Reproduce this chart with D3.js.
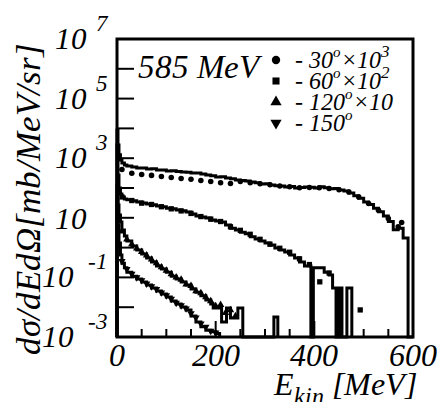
<!DOCTYPE html>
<html>
<head>
<meta charset="utf-8">
<script src="https://cdn.jsdelivr.net/npm/d3@7"></script>
<style>
@font-face { font-family: "RootSerif"; font-style: italic; font-weight: 400;
	src: local("Liberation Serif Italic"), local("LiberationSerif-Italic"), local("Tinos Italic"), local("DejaVu Serif Italic"); }
body { margin: 0; background: #fff; }
#chart text { font-family: "RootSerif", "Liberation Serif", "Tinos", "DejaVu Serif", serif !important; font-style: italic; }
</style>
</head>
<body>
<svg id="chart" width="437" height="402" font-family="Liberation Serif" font-style="italic"></svg>
<script>
/* Espectros de protones, 585 MeV: histogramas (modelo) + puntos (datos) */

// 30 deg x 10^3
var edges30 = [0,2,4,7,10,15,20,30,40,50,60,70,80,90,100,110,120,130,140,150,160,170,180,190,200,210,220,230,240,250,260,270,280,290,300,310,320,330,340,350,360,370,380,390,400,410,420,430,440,450,460,470,480,490,500,510,520,530,540,550,560,570,580,590,600];
var hist30 = [8800,2800,1300,870,690,590,550,510,470,465,435,440,400,405,372,380,360,344,340,318,320,295,273,260,234,240,217,205,185,178,172,159,150,136,140,126,120,117,108,112,100,104,108,106,100,110,102,95,96,86,80,68,55,45,34,28,21,16,11.5,7.5,4.0,4.5,2.1,0];
var ptsE30 = [10,30,50,70,90,110,130,150,170,190,210,230,250,270,290,310,330,350,370,390,410,430,450,470,490,510,530,550,570,577];
var pts30  = [420,310,285,265,245,225,210,195,180,165,150,142,165,150,138,128,117,110,102,104,102,97,88,74,50,30,18,9.5,5,6.9];

// 60 deg x 10^2
var edges60 = [0,2,4,7,10,15,20,30,40,50,60,70,80,90,100,110,120,130,140,150,160,170,180,190,200,210,220,230,240,250,260,270,280,290,300,310,320,330,340,350,360,370,380,393,398,410,420,430,437,444,450,456,466,476];
var hist60 = [2770,273,100,63,50,43,40,37,34,31.5,29,27.5,25,23.5,21,20,18.3,17.2,15.7,13.4,11.5,10.6,9.8,8.4,7.8,7.2,5.7,4.5,3.9,3.3,2.9,2.3,1.95,1.66,1.43,1.22,0.97,0.83,0.71,0.56,0.45,0.33,0.24,0,0.21,0.21,0.15,0.12,0.044,0,0.044,0,0.044];
var ptsE60 = [10,30,50,70,90,110,130,150,170,190,210,230,250,270,290,310,330,350,370,390,411,430,493];
var pts60  = [50,38,31,28,23.5,20,17,14,11,9,7.5,5,3.8,2.8,1.9,1.3,0.95,0.7,0.42,0.27,0.071,0.14,0.0081];

// 120 deg x 10
var edges120 = [0,2,4,7,10,15,20,30,40,50,60,70,80,90,100,110,120,130,140,150,160,170,180,190,195,212,222,230,238,245,255,318,326];
var hist120 = [126,27,12.4,7.2,3.9,2.45,1.66,1.13,0.83,0.61,0.45,0.33,0.24,0.19,0.15,0.11,0.088,0.070,0.056,0.041,0.032,0.024,0.0175,0.0128,0.0094,0.0032,0.0094,0.0043,0.0043,0.0094,0,0.0047];
var ptsE120 = [10,20,30,40,50,60,70,80,90,100,110,120,130,140,150,160,170,180,190,200,210,220,230,240];
var pts120  = [3.5,1.9,1.3,0.95,0.72,0.55,0.40,0.30,0.22,0.17,0.13,0.10,0.085,0.058,0.052,0.035,0.030,0.022,0.016,0.011,0.012,0.0065,0.008,0.005];

// 150 deg
var edges150 = [0,2,4,7,10,15,20,30,40,50,60,70,80,90,100,110,120,130,140,150,160,170,180,190,200,208];
var hist150 = [40,5.7,1.43,0.56,0.30,0.21,0.15,0.11,0.088,0.070,0.056,0.044,0.035,0.028,0.022,0.016,0.0128,0.0102,0.0081,0.0051,0.0032,0.0022,0.0017,0.0015,0.0013];
var ptsE150 = [10,20,30,40,50,60,70,80,90,100,110,120,130,140,150,160,170,180,190,200];
var pts150  = [0.35,0.19,0.13,0.10,0.080,0.062,0.050,0.040,0.031,0.025,0.019,0.014,0.0115,0.009,0.0062,0.0045,0.0028,0.0022,0.0016,0.0014];

var series = [
	{edges: edges30,  hist: hist30,  ptsE: ptsE30,  pts: pts30,  sym: d3.symbolCircle,   rot: 0,   angle: "30",  factor: "3"},
	{edges: edges60,  hist: hist60,  ptsE: ptsE60,  pts: pts60,  sym: d3.symbolSquare,   rot: 0,   angle: "60",  factor: "2"},
	{edges: edges120, hist: hist120, ptsE: ptsE120, pts: pts120, sym: d3.symbolTriangle, rot: 0,   angle: "120", factor: "1"},
	{edges: edges150, hist: hist150, ptsE: ptsE150, pts: pts150, sym: d3.symbolTriangle, rot: 180, angle: "150", factor: ""}
];
var xTicks = [0,50,100,150,200,250,300,350,400,450,500,550,600];
var xLabels = [0,200,400,600];
var yDecades = [-3,-2,-1,0,1,2,3,4,5,6,7];
var yLabelled = [-3,-1,1,3,5,7];

function serif(sel) {
	return sel.attr("style", "font-family: RootSerif, 'Liberation Serif', Tinos, 'DejaVu Serif', serif; font-style: italic")
		.attr("fill", "#000");
}

var frame = {left: 117, right: 413, top: 39, bottom: 337};
var svg = d3.select("#chart");

var x = d3.scaleLinear().domain([0, 600]).range([frame.left, frame.right]);
var y = d3.scaleLog().domain([1e-3, 1e7]).range([frame.bottom, frame.top]).clamp(true);
function yv(v) { return v > 0 ? y(v) : frame.bottom; }

var plot = svg.append("g");

// histogramas en escalones
var line = d3.line().x(function(d) {return x(d[0]);}).y(function(d) {return yv(d[1]);});
series.forEach(function(s) {
	var p = [[s.edges[0], 0]];
	s.hist.forEach(function(v, i) {
		p.push([s.edges[i], v]);
		p.push([s.edges[i+1], v]);
	});
	p.push([s.edges[s.edges.length-1], 0]);
	plot.append("path").attr("d", line(p))
		.attr("fill", "none").attr("stroke", "#000").attr("stroke-width", 3)
		.attr("stroke-linejoin", "miter");
});

// puntos experimentales
series.forEach(function(s) {
	var sym = d3.symbol().type(s.sym).size(s.sym === d3.symbolSquare ? 28 : 24);
	plot.selectAll(null).data(s.pts).enter().append("path")
		.attr("d", sym)
		.attr("transform", function(d, i) {
			return "translate(" + x(s.ptsE[i]) + "," + yv(d) + ") rotate(" + s.rot + ")";
		})
		.attr("fill", "#000");
});

// marcas de los ejes, con las escalas
var ticks = svg.append("g").attr("stroke", "#000").attr("stroke-width", 2);
xTicks.forEach(function(t) {
	var len = xLabels.indexOf(t) >= 0 ? 16 : 8;
	ticks.append("line").attr("x1", x(t)).attr("x2", x(t)).attr("y1", frame.bottom).attr("y2", frame.bottom - len);
});
yDecades.forEach(function(e) {
	var ty = y(Math.pow(10, e));
	ticks.append("line").attr("x1", frame.left).attr("x2", frame.left + 17).attr("y1", ty).attr("y2", ty);
});

xLabels.forEach(function(t) {
	serif(svg.append("text")).attr("x", x(t)).attr("y", 366).attr("text-anchor", "middle")
		.attr("font-size", 32).text(t);
});

// etiquetas 10^n
yLabelled.forEach(function(e) {
	var ty = y(Math.pow(10, e)) + 10;
	if (e === 1) {
		serif(svg.append("text")).attr("x", 87).attr("y", ty + 1).attr("text-anchor", "end")
			.attr("font-size", 31).text("10");
	} else {
		var t = serif(svg.append("text")).attr("x", 108).attr("y", ty).attr("text-anchor", "end").attr("font-size", 31);
		t.append("tspan").text("10");
		t.append("tspan").attr("dx", e < 0 ? 14 : 9).attr("dy", -18).attr("font-size", 23).text(String(e));
	}
});

// marco
svg.append("rect").attr("x", frame.left).attr("y", frame.top)
	.attr("width", frame.right - frame.left).attr("height", frame.bottom - frame.top)
	.attr("fill", "none").attr("stroke", "#000").attr("stroke-width", 3);

// títulos
serif(svg.append("text")).attr("transform", "translate(40,199) rotate(-90)")
	.attr("text-anchor", "middle").attr("font-size", 35).text("dσ/dEdΩ[mb/MeV/sr]");
var xt = serif(svg.append("text")).attr("x", 417).attr("y", 395).attr("text-anchor", "end").attr("font-size", 32);
xt.append("tspan").text("E");
xt.append("tspan").attr("dy", 9).attr("font-size", 24).text("kin");
xt.append("tspan").attr("dy", -9).text(" [MeV]");

serif(svg.append("text")).attr("x", 138).attr("y", 78).attr("font-size", 33).text("585 MeV");

// leyenda
var legY = [60, 81, 102, 123];
series.forEach(function(s, i) {
	var sym = d3.symbol().type(s.sym).size(s.sym === d3.symbolSquare ? 50 : 55);
	svg.append("path").attr("d", sym)
		.attr("transform", "translate(276," + legY[i] + ") rotate(" + s.rot + ")").attr("fill", "#000");
	var t = serif(svg.append("text")).attr("x", 295).attr("y", legY[i] + 8).attr("font-size", 24);
	t.append("tspan").text("- " + s.angle);
	t.append("tspan").attr("dy", -11).attr("font-size", 15).text("o");
	if (s.factor) {
		t.append("tspan").attr("dy", 11).text("×10");
		if (s.factor !== "1") t.append("tspan").attr("dy", -11).attr("font-size", 17).text(s.factor);
	}
});
</script>
</body>
</html>
